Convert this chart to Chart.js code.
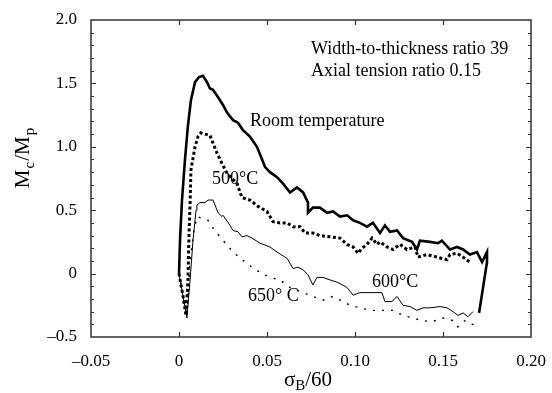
<!DOCTYPE html>
<html>
<head>
<meta charset="utf-8">
<script src="https://cdn.jsdelivr.net/npm/chart.js@4.4.1/dist/chart.umd.min.js"></script>
<style>
    html, body { margin: 0; padding: 0; background: #fff; }
    #wrap { width: 552px; height: 393px; }
</style>
</head>
<body>
<div id="wrap"><canvas id="chart" width="552" height="393"></canvas></div>
<script>
// axis ticks
const xTicks = [-0.05, 0, 0.05, 0.10, 0.15, 0.20];
const xTickLabels = ["\u20130.05", "0", "0.05", "0.10", "0.15", "0.20"];
const yTicks = [-0.5, 0, 0.5, 1.0, 1.5, 2.0];
const yTickLabels = ["\u20130.5", "0", "0.5", "1.0", "1.5", "2.0"];

// room temperature (thick solid)
const roomX = [0, 0.0006, 0.0017, 0.0034, 0.0051, 0.0068, 0.0091, 0.0114, 0.0136, 0.0159,
    0.0176, 0.0193, 0.0222, 0.0250, 0.0273, 0.0290, 0.0307, 0.0335, 0.0364, 0.0403,
    0.0443, 0.0472, 0.0489, 0.0517, 0.0557, 0.0591, 0.0631, 0.0670, 0.0705, 0.0733,
    0.0733, 0.0761, 0.0801, 0.0841, 0.0875, 0.0915, 0.0955, 0.0989, 0.1028, 0.1068,
    0.1102, 0.1142, 0.1170, 0.1199, 0.1239, 0.1273, 0.1324, 0.1352, 0.1369, 0.1426,
    0.1472, 0.1494, 0.1540, 0.1580, 0.1614, 0.1653, 0.1693, 0.1722, 0.1750, 0.1750, 0.1705];
const roomY = [0, 0.27, 0.58, 0.90, 1.17, 1.37, 1.51, 1.55, 1.56, 1.51,
    1.46, 1.45, 1.39, 1.33, 1.27, 1.24, 1.21, 1.19, 1.13, 1.08,
    1.00, 0.90, 0.84, 0.80, 0.76, 0.71, 0.64, 0.68, 0.64, 0.56,
    0.48, 0.52, 0.52, 0.48, 0.49, 0.45, 0.46, 0.42, 0.40, 0.37,
    0.40, 0.32, 0.38, 0.33, 0.34, 0.28, 0.25, 0.19, 0.26, 0.25,
    0.24, 0.26, 0.19, 0.21, 0.19, 0.15, 0.17, 0.09, 0.17, 0.09, -0.31];

// 500 C (thick dotted)
const t500X = [0, 0.0023, 0.0040, 0.0051, 0.0057, 0.0063, 0.0068, 0.0091, 0.0108, 0.0125,
    0.0148, 0.0176, 0.0193, 0.0216, 0.0244, 0.0273, 0.0330, 0.0347, 0.0358, 0.0403,
    0.0449, 0.0500, 0.0517, 0.0534, 0.0574, 0.0614, 0.0648, 0.0688, 0.0716, 0.0761,
    0.0801, 0.0858, 0.0915, 0.0955, 0.0989, 0.1017, 0.1040, 0.1068, 0.1097, 0.1125,
    0.1142, 0.1182, 0.1216, 0.1256, 0.1295, 0.1341, 0.1358, 0.1409, 0.1466, 0.1523,
    0.1540, 0.1580, 0.1614, 0.1653];
const t500Y = [0, -0.18, -0.33, -0.05, 0.32, 0.56, 0.82, 1.00, 1.08, 1.11,
    1.10, 1.09, 1.03, 0.95, 0.87, 0.79, 0.71, 0.64, 0.60, 0.58,
    0.53, 0.49, 0.45, 0.41, 0.40, 0.40, 0.37, 0.37, 0.32, 0.32,
    0.30, 0.29, 0.28, 0.23, 0.21, 0.16, 0.20, 0.23, 0.28, 0.23,
    0.25, 0.21, 0.19, 0.23, 0.19, 0.21, 0.13, 0.15, 0.13, 0.11,
    0.15, 0.16, 0.13, 0.09];

// 600 C (thin solid)
const t600X = [0, 0.0045, 0.0063, 0.0080, 0.0097, 0.0102, 0.0119, 0.0148, 0.0165, 0.0193,
    0.0222, 0.0244, 0.0250, 0.0290, 0.0307, 0.0335, 0.0358, 0.0386, 0.0415, 0.0460,
    0.0517, 0.0557, 0.0614, 0.0648, 0.0676, 0.0705, 0.0733, 0.0761, 0.0784, 0.0818,
    0.0858, 0.0903, 0.0955, 0.0989, 0.1028, 0.1068, 0.1114, 0.1153, 0.1170, 0.1210,
    0.1239, 0.1273, 0.1313, 0.1352, 0.1386, 0.1426, 0.1483, 0.1523, 0.1557, 0.1585,
    0.1614, 0.1642, 0.1670];
const t600Y = [0, -0.35, -0.05, 0.27, 0.50, 0.54, 0.56, 0.56, 0.58, 0.58,
    0.48, 0.45, 0.46, 0.38, 0.34, 0.33, 0.29, 0.30, 0.28, 0.24,
    0.21, 0.17, 0.12, 0.04, 0.05, 0.03, -0.01, -0.09, -0.03, -0.03,
    -0.05, -0.07, -0.11, -0.17, -0.15, -0.15, -0.15, -0.15, -0.22, -0.22,
    -0.18, -0.25, -0.26, -0.29, -0.27, -0.27, -0.26, -0.27, -0.30, -0.33,
    -0.31, -0.34, -0.30];

// 650 C (thin dotted)
const t650X = [0, 0.0045, 0.0063, 0.0085, 0.0102, 0.0165, 0.0193, 0.0233, 0.0307, 0.0358,
    0.0415, 0.0460, 0.0517, 0.0574, 0.0631, 0.0761, 0.0818, 0.0875, 0.0972, 0.1028,
    0.1085, 0.1153, 0.1216, 0.1273, 0.1381, 0.1438, 0.1500, 0.1557, 0.1585, 0.1625, 0.1682];
const t650Y = [0, -0.33, 0.11, 0.34, 0.45, 0.42, 0.36, 0.29, 0.17, 0.11,
    0.05, 0.01, -0.03, -0.05, -0.11, -0.18, -0.21, -0.18, -0.25, -0.27,
    -0.29, -0.29, -0.29, -0.33, -0.37, -0.38, -0.35, -0.37, -0.42, -0.37, -0.41];

const FONT = "'Liberation Serif', 'Times New Roman', serif";

function pts(xs, ys) {
    return xs.map((x, i) => ({ x, y: ys[i] }));
}

function series(label, xs, ys, width, dash) {
    return {
        label,
        data: pts(xs, ys),
        borderColor: "#000",
        borderWidth: width,
        borderDash: dash,
        borderCapStyle: "butt",
        pointRadius: 0,
        tension: 0,
        fill: false,
    };
}

// draws a run of [text, font, drop] pieces starting at x
function drawRun(ctx, parts, x, y, gap) {
    parts.forEach(p => {
        ctx.font = p[1];
        ctx.fillText(p[0], x, y + p[2]);
        x += ctx.measureText(p[0]).width + gap;
    });
}

function runWidth(ctx, parts, gap) {
    let w = 0;
    parts.forEach(p => { ctx.font = p[1]; w += ctx.measureText(p[0]).width + gap; });
    return w - gap;
}

// frame, inward ticks, axis titles and notes
const decorations = {
    id: "decorations",
    afterDraw(chart) {
        const ctx = chart.ctx;
        const { left, right, top, bottom } = chart.chartArea;
        const xs = chart.scales.x, ys = chart.scales.y;
        ctx.save();
        ctx.strokeStyle = "#333";
        ctx.lineWidth = 1.5;
        ctx.strokeRect(left, top, right - left, bottom - top);

        ctx.lineWidth = 1.2;
        ctx.beginPath();
        xTicks.slice(1, -1).forEach(v => {
            const px = Math.round(xs.getPixelForValue(v)) + 0.5;
            ctx.moveTo(px, bottom); ctx.lineTo(px, bottom - 5);
            ctx.moveTo(px, top); ctx.lineTo(px, top + 5);
        });
        for (let i = 1; i < 25; i++) {
            const v = -0.5 + i * 0.1;
            const py = Math.round(ys.getPixelForValue(v)) + 0.5;
            const len = (i % 5 === 0) ? 5 : 3;
            ctx.moveTo(left, py); ctx.lineTo(left + len, py);
            ctx.moveTo(right, py); ctx.lineTo(right - len, py);
        }
        ctx.stroke();

        ctx.fillStyle = "#000";
        ctx.textBaseline = "alphabetic";
        ctx.textAlign = "left";

        const big = "21px " + FONT, small = "15px " + FONT;

        // x title: sigma_B/60
        const xParts = [["\u03c3", big, 0], ["B", small, 4], ["/60", big, 0]];
        drawRun(ctx, xParts, 308 - runWidth(ctx, xParts, 0) / 2, 386, 0);

        // y title: M_c/M_p
        ctx.save();
        ctx.translate(29, 158);
        ctx.rotate(-Math.PI / 2);
        const yParts = [["M", big, 0], ["c", small, 5], ["/M", big, 0], ["p", small, 5]];
        drawRun(ctx, yParts, -runWidth(ctx, yParts, 1) / 2, 0, 1);
        ctx.restore();

        // notes
        ctx.font = "18px " + FONT;
        ctx.fillText("Width-to-thickness ratio 39", 311, 54);
        ctx.fillText("Axial tension ratio 0.15", 311, 76);
        ctx.fillText("Room temperature", 250, 126);
        ctx.fillText("500\u00b0C", 212, 184);
        ctx.fillText("600\u00b0C", 372, 287);
        ctx.fillText("650\u00b0 C", 248, 301);
        ctx.restore();
    }
};

new Chart(document.getElementById("chart"), {
    type: "line",
    data: {
        datasets: [
            series("Room temperature", roomX, roomY, 2.6, []),
            series("500\u00b0C", t500X, t500Y, 3, [3, 2.5]),
            series("600\u00b0C", t600X, t600Y, 1, []),
            series("650\u00b0 C", t650X, t650Y, 1.4, [2, 7]),
        ],
    },
    options: {
        responsive: false,
        animation: false,
        devicePixelRatio: 1,
        layout: { padding: { top: 20, right: 21, left: 0, bottom: 0 } },
        plugins: {
            legend: { display: false },
            tooltip: { enabled: false },
        },
        scales: {
            x: {
                type: "linear",
                min: -0.05,
                max: 0.20,
                grid: { display: false },
                border: { display: false },
                afterBuildTicks: s => { s.ticks = xTicks.map(v => ({ value: v })); },
                afterFit: s => { s.height = 56; },
                ticks: {
                    color: "#000",
                    padding: 6,
                    font: { family: FONT, size: 17 },
                    maxRotation: 0,
                    callback: (v, i) => xTickLabels[i],
                },
            },
            y: {
                type: "linear",
                min: -0.5,
                max: 2.0,
                grid: { display: false },
                border: { display: false },
                afterBuildTicks: s => { s.ticks = yTicks.map(v => ({ value: v })); },
                afterFit: s => { s.width = 91; },
                ticks: {
                    color: "#000",
                    padding: 6,
                    font: { family: FONT, size: 17 },
                    callback: (v, i) => yTickLabels[i],
                },
            },
        },
    },
    plugins: [decorations],
});
</script>
</body>
</html>
